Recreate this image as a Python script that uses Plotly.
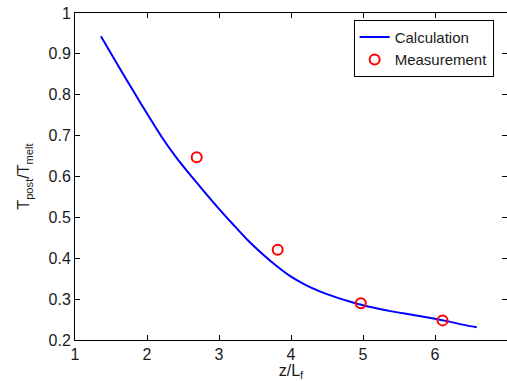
import plotly.graph_objects as go

calc_x = [1.36, 1.6, 1.8, 2.0, 2.2, 2.4, 2.6, 2.8, 3.0, 3.2, 3.4, 3.6, 3.8, 4.0, 4.2, 4.4, 4.6, 4.8, 5.0, 5.2, 5.4, 5.6, 5.8, 6.0, 6.2, 6.4, 6.58]
calc_y = [0.943, 0.871, 0.812, 0.754, 0.698, 0.648, 0.604, 0.562, 0.521, 0.482, 0.444, 0.411, 0.381, 0.355, 0.335, 0.319, 0.306, 0.295, 0.285, 0.277, 0.270, 0.264, 0.258, 0.252, 0.245, 0.237, 0.231]
meas_x = [2.69, 3.815, 4.97, 6.105]
meas_y = [0.647, 0.421, 0.290, 0.248]

x_ticks = [1, 2, 3, 4, 5, 6, 7]
y_ticks = [0.2, 0.3, 0.4, 0.5, 0.6, 0.7, 0.8, 0.9, 1]
y_labels = ["0.2", "0.3", "0.4", "0.5", "0.6", "0.7", "0.8", "0.9", "1"]

fig = go.Figure()
fig.add_trace(go.Scatter(x=calc_x, y=calc_y, mode="lines", name="Calculation",
                         line=dict(color="#0000ff", width=2, shape="spline", smoothing=0.6)))
fig.add_trace(go.Scatter(x=meas_x, y=meas_y, mode="markers", name="Measurement",
                         marker=dict(symbol="circle-open", color="#ff0000", size=10,
                                     line=dict(width=2, color="#ff0000"))))

fam = "Liberation Sans, Arial, sans-serif"
font = dict(family=fam, size=16, color="#1a1a1a")
fig.update_layout(
    width=507, height=381,
    margin=dict(l=75, r=0, t=13, b=41),
    paper_bgcolor="white", plot_bgcolor="white",
    font=font,
    showlegend=True,
    legend=dict(x=0.645, y=0.979, xanchor="left", yanchor="top",
                bgcolor="white", bordercolor="#000000", borderwidth=1,
                font=dict(family=fam, size=15, color="#1a1a1a"),
                itemwidth=30, tracegroupgap=0),
)
fig.update_xaxes(range=[1, 7], tickvals=x_ticks, ticktext=[str(v) for v in x_ticks],
                 showgrid=False, zeroline=False, showline=True, linecolor="#000000",
                 linewidth=1, mirror="ticks", ticks="inside", ticklen=5, tickcolor="#000000",
                 tickfont=font,
                 title=dict(text="z/L<sub>f</sub>", standoff=2, font=font))
fig.update_yaxes(range=[0.2, 1], tickvals=y_ticks, ticktext=y_labels,
                 showgrid=False, zeroline=False, showline=True, linecolor="#000000",
                 linewidth=1, mirror="ticks", ticks="inside", ticklen=5, tickcolor="#000000",
                 tickfont=font,
                 title=dict(text="T<sub>post</sub>/T<sub>melt</sub>", standoff=14, font=font))

fig.write_html("out.html")
